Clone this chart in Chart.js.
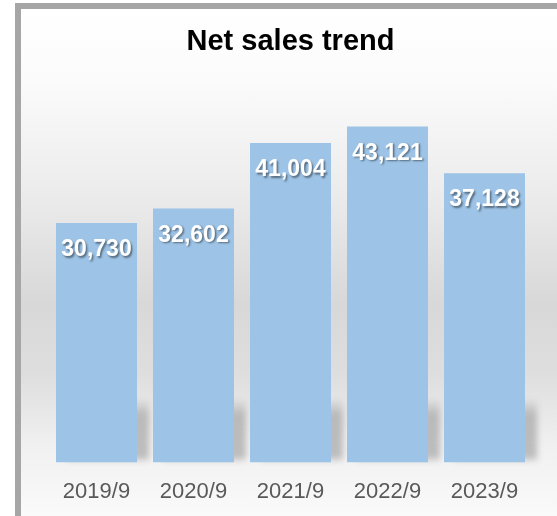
<!DOCTYPE html>
<html>
<head>
<meta charset="utf-8">
<script src="https://cdn.jsdelivr.net/npm/chart.js@4"></script>
<style>
  html, body { margin: 0; padding: 0; background: #ffffff; }
  #frame {
    position: absolute;
    left: 15px;
    top: 3px;
    width: 536px;
    height: 507px;
    overflow: hidden;
    border-left: 6px solid #a6a6a6;
    border-top: 6px solid #a6a6a6;
    background: linear-gradient(to bottom, #ffffff 0%, #fbfbfb 14%, #ececec 36%, #d8d8d8 58%, #dedede 72%, #f0f0f0 86%, #fafafa 100%);
  }
  #salesChart { display: block; }
</style>
</head>
<body>
<div id="frame">
  <canvas id="salesChart" width="536" height="512"></canvas>
</div>
<script>
// Net sales by fiscal year end
const periods = ['2019/9', '2020/9', '2021/9', '2022/9', '2023/9'];
const netSales = [30730, 32602, 41004, 43121, 37128];

const barColor = '#9dc3e6';

// Soft grey shadow at the foot of each bar, offset to the right
const barShadow = {
    id: 'barShadow',
    beforeDatasetsDraw(chart) {
        const ctx = chart.ctx;
        const meta = chart.getDatasetMeta(0);
        ctx.save();
        ctx.filter = 'blur(3px)';
        meta.data.forEach(bar => {
            const half = bar.width / 2;
            const base = bar.base;
            const top = Math.max(bar.y, base - 64);
            const grad = ctx.createLinearGradient(0, top, 0, base);
            grad.addColorStop(0, 'rgba(0,0,0,0)');
            grad.addColorStop(0.25, 'rgba(0,0,0,0.2)');
            grad.addColorStop(0.9, 'rgba(0,0,0,0.22)');
            grad.addColorStop(1, 'rgba(0,0,0,0.05)');
            ctx.fillStyle = grad;
            ctx.fillRect(bar.x - half + 10, top, bar.width + 2, base - top - 2);
        });
        ctx.restore();
    }
};

// White value labels just inside the top of each bar
const valueLabels = {
    id: 'valueLabels',
    afterDatasetsDraw(chart) {
        const ctx = chart.ctx;
        const meta = chart.getDatasetMeta(0);
        ctx.save();
        ctx.font = 'bold 23px "Liberation Sans", Arial, sans-serif';
        ctx.textAlign = 'center';
        ctx.textBaseline = 'middle';
        ctx.fillStyle = '#ffffff';
        ctx.shadowColor = 'rgba(0,0,0,0.45)';
        ctx.shadowOffsetX = 1.5;
        ctx.shadowOffsetY = 1.5;
        ctx.shadowBlur = 2;
        meta.data.forEach((bar, i) => {
            ctx.fillText(netSales[i].toLocaleString('en-US'), bar.x, bar.y + 27);
        });
        ctx.restore();
    }
};

const ctx = document.getElementById('salesChart').getContext('2d');
new Chart(ctx, {
    type: 'bar',
    data: {
        labels: periods,
        datasets: [{
            data: netSales,
            backgroundColor: barColor,
            borderWidth: 0,
            categoryPercentage: 1,
            barPercentage: 0.835
        }]
    },
    options: {
        responsive: false,
        animation: false,
        layout: {
            padding: { left: 27, right: 24, top: 0, bottom: 0 }
        },
        plugins: {
            legend: { display: false },
            tooltip: { enabled: false },
            title: {
                display: true,
                text: 'Net sales trend',
                color: '#000000',
                font: { family: '"Liberation Sans", Arial, sans-serif', size: 29, weight: 'bold' },
                padding: { top: 16, bottom: 13 }
            }
        },
        scales: {
            x: {
                grid: { display: false, drawTicks: false },
                border: { display: false },
                ticks: {
                    color: '#595959',
                    padding: 16,
                    font: { family: '"Liberation Sans", Arial, sans-serif', size: 22 }
                }
            },
            y: {
                display: false,
                min: 0,
                max: 50000
            }
        }
    },
    plugins: [barShadow, valueLabels]
});
</script>
</body>
</html>
